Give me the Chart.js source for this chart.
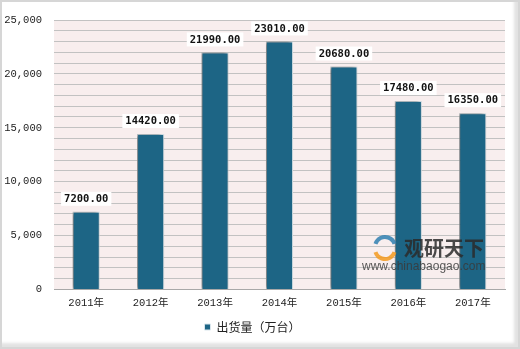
<!DOCTYPE html>
<html>
<head>
<meta charset="utf-8">
<script src="https://cdn.jsdelivr.net/npm/chart.js@4/dist/chart.umd.min.js"></script>
<style>
  html, body { margin: 0; padding: 0; background: #fff; }
  #caixa { position: relative; width: 520px; height: 349px; }
  #moldura {
    position: absolute; left: 0; top: 0; width: 520px; height: 349px;
    box-sizing: border-box; border: 2px solid #d6d6d6;
    box-shadow: inset -4px -4px 3px #e2e2e2;
    pointer-events: none;
  }
</style>
</head>
<body>
<div id="caixa">
  <canvas id="grafico" width="520" height="349"></canvas>
  <div id="moldura"></div>
</div>
<script>
const anos = ['2011年', '2012年', '2013年', '2014年', '2015年', '2016年', '2017年'];
const saidas = [7200, 14420, 21990, 23010, 20680, 17480, 16350];
const rotulosY = [0, 5000, 10000, 15000, 20000, 25000];
const nomeSerie = '出货量（万台）';

const corBarra = '#1d6585';

// fundo rosado da area do grafico
const fundoArea = {
  id: 'fundoArea',
  beforeDraw(chart) {
    const { ctx, chartArea: a } = chart;
    ctx.save();
    ctx.fillStyle = '#f8eeee';
    ctx.fillRect(a.left, a.top, a.right - a.left, a.bottom - a.top);
    ctx.restore();
  }
};

// sombra das barras
const sombraBarras = {
  id: 'sombraBarras',
  beforeDatasetDraw(chart) {
    const ctx = chart.ctx;
    ctx.save();
    ctx.shadowColor = 'rgba(0,0,0,0.55)';
    ctx.shadowBlur = 4;
    ctx.shadowOffsetX = -2;
    ctx.shadowOffsetY = 0;
  },
  afterDatasetDraw(chart) {
    chart.ctx.restore();
  }
};

// rotulos com caixa branca acima das barras
const rotulosBarras = {
  id: 'rotulosBarras',
  afterDatasetsDraw(chart) {
    const ctx = chart.ctx;
    const meta = chart.getDatasetMeta(0);
    ctx.save();
    ctx.font = 'bold 10.5px "DejaVu Sans Mono"';
    ctx.textAlign = 'center';
    ctx.textBaseline = 'middle';
    meta.data.forEach((barra, i) => {
      const texto = saidas[i].toFixed(2);
      const w = ctx.measureText(texto).width + 6;
      const h = 14;
      const y = barra.y - 6 - h / 2;
      ctx.fillStyle = '#ffffff';
      ctx.fillRect(barra.x - w / 2, y - h / 2, w, h);
      ctx.fillStyle = '#111';
      ctx.fillText(texto, barra.x, y + 0.5);
    });
    ctx.restore();
  }
};

// marca d'agua
const marcaDagua = {
  id: 'marcaDagua',
  afterDraw(chart) {
    const ctx = chart.ctx;
    ctx.save();
    ctx.globalAlpha = 0.85;
    ctx.fillStyle = '#2a2a2a';
    ctx.font = 'bold 20px "Noto Sans CJK SC"';
    ctx.textBaseline = 'middle';
    ctx.fillText('观研天下', 404, 248);
    ctx.fillStyle = '#3a3a3a';
    ctx.font = '12px "Liberation Sans"';
    ctx.fillText('www.chinabaogao.com', 362, 267);
    ctx.strokeStyle = '#2f7fb0';
    ctx.lineWidth = 4;
    ctx.beginPath();
    ctx.arc(385, 247, 10, Math.PI * 1.1, Math.PI * 1.9);
    ctx.stroke();
    ctx.strokeStyle = '#f39a1e';
    ctx.beginPath();
    ctx.arc(385, 249, 10, Math.PI * 0.1, Math.PI * 0.9);
    ctx.stroke();
    ctx.restore();
  }
};

new Chart(document.getElementById('grafico'), {
  type: 'bar',
  data: {
    labels: anos,
    datasets: [{
      label: nomeSerie,
      data: saidas,
      backgroundColor: corBarra,
      borderColor: '#d9e6ec',
      borderWidth: 1,
      barPercentage: 0.6,
      categoryPercentage: 0.7
    }]
  },
  options: {
    responsive: false,
    animation: false,
    layout: { padding: { left: 0, right: 15, top: 20, bottom: 6 } },
    plugins: {
      legend: {
        position: 'bottom',
        labels: {
          boxWidth: 6,
          boxHeight: 6,
          padding: 3,
          color: '#222',
          font: { size: 12, family: '"Noto Sans CJK SC"' }
        }
      },
      tooltip: { enabled: false }
    },
    scales: {
      x: {
        grid: { display: false, drawTicks: false },
        border: { color: '#a8a8a8' },
        ticks: { color: '#222', padding: 8, font: { size: 10.5, family: '"Liberation Mono", "Noto Sans CJK SC"' } }
      },
      y: {
        min: 0,
        max: 25000,
        afterFit(scale) { scale.width = 54; },
        grid: { color: '#c2c2c2', lineWidth: 1, drawTicks: false },
        border: { display: false },
        ticks: {
          stepSize: 1000,
          autoSkip: false,
          padding: 12,
          color: '#222',
          font: { size: 10.5, family: '"Liberation Mono"' },
          callback: v => rotulosY.includes(v) ? v.toLocaleString('en-US') : ''
        }
      }
    }
  },
  plugins: [fundoArea, sombraBarras, rotulosBarras, marcaDagua]
});
</script>
</body>
</html>
